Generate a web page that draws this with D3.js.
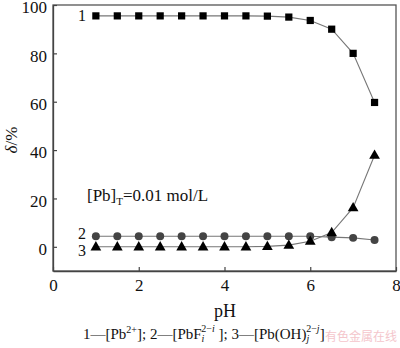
<!DOCTYPE html>
<html><head><meta charset="utf-8">
<script src="https://cdn.jsdelivr.net/npm/d3@7/dist/d3.min.js"></script>
<style>body{margin:0;background:#fff}svg{display:block;font-family:"Liberation Serif","Times New Roman",serif}</style>
</head><body><svg id="c" width="400" height="348"></svg>
<script>
const pH = [1, 1.5, 2, 2.5, 3, 3.5, 4, 4.5, 5, 5.5, 6, 6.5, 7, 7.5];
const pb2 = [95.5, 95.5, 95.5, 95.5, 95.5, 95.5, 95.5, 95.5, 95.4, 95, 93.6, 90, 80, 59.7];
const pbF = [4.4, 4.4, 4.4, 4.4, 4.4, 4.4, 4.4, 4.4, 4.4, 4.4, 4.4, 4.0, 3.7, 2.8];
const pbOH = [0, 0, 0, 0, 0, 0, 0, 0, 0.2, 0.7, 2.3, 5.9, 16.2, 37.9];
const xTicks = [0, 2, 4, 6, 8];
const yTicks = [0, 20, 40, 60, 80, 100];

const svg = d3.select("#c");
const L = 53, R = 396, T = 5, B = 271;
const x = d3.scaleLinear().domain([0, 8]).range([L, R]);
const y = d3.scaleLinear().domain([-10, 100]).range([B, T]);
const axCol = "#444";

svg.append("rect").attr("x", L).attr("y", T).attr("width", R - L).attr("height", B - T)
  .attr("fill", "none").attr("stroke", "#555").attr("stroke-width", 1.3);

const xa = svg.append("g").attr("transform", `translate(0,${B})`)
  .call(d3.axisBottom(x).tickValues(xTicks).tickSizeInner(-4).tickSizeOuter(0).tickPadding(8));
const ya = svg.append("g").attr("transform", `translate(${L},0)`)
  .call(d3.axisLeft(y).tickValues(yTicks).tickSizeInner(-4).tickSizeOuter(0).tickPadding(6));
[xa, ya].forEach(a => {
  a.attr("font-family", "Liberation Serif").attr("font-size", 17);
  a.select(".domain").attr("stroke", axCol).attr("stroke-width", 1.3);
  a.selectAll(".tick line").attr("stroke", axCol).attr("stroke-width", 1.2);
  a.selectAll("text").attr("fill", "#111");
});
ya.selectAll("text").attr("dy", "0.45em");

const line = d3.line().x(d => x(d[0])).y(d => y(d[1]));
const series = [
  {vals: pb2, shape: d3.symbolSquare, size: 52, fill: "#000"},
  {vals: pbF, shape: d3.symbolCircle, size: 50, fill: "#444"},
  {vals: pbOH, shape: d3.symbolTriangle, size: 50, fill: "#000"}
];
series.forEach(s => {
  const pts = pH.map((p, i) => [p, s.vals[i]]);
  svg.append("path").datum(pts).attr("d", line).attr("fill", "none")
    .attr("stroke", "#777").attr("stroke-width", 1.1);
  svg.selectAll(null).data(pts).enter().append("path")
    .attr("d", d3.symbol().type(s.shape).size(s.size))
    .attr("transform", d => `translate(${x(d[0])},${y(d[1]) + (s.shape === d3.symbolTriangle ? 0.5 : 0)})`)
    .attr("fill", s.fill);
});

const lab = (t, px, py) => svg.append("text").attr("x", px).attr("y", py).attr("font-size", 16)
  .attr("text-anchor", "middle").attr("fill", "#111").text(t);
lab("1", 82, 21);
lab("2", 82, 239);
lab("3", 82, 256);

const ann = svg.append("text").attr("x", 87).attr("y", 201).attr("font-size", 17).attr("fill", "#111");
ann.append("tspan").text("[Pb]");
ann.append("tspan").attr("font-size", 11).attr("dy", 4).text("T");
ann.append("tspan").attr("dy", -4).text("=0.01 mol/L");

svg.append("text").attr("x", 225).attr("y", 317).attr("font-size", 18).attr("text-anchor", "middle")
  .attr("fill", "#111").text("pH");
const yt = svg.append("text").attr("transform", "translate(17,140) rotate(-90)").attr("font-size", 17)
  .attr("text-anchor", "middle").attr("fill", "#111");
yt.append("tspan").attr("font-style", "italic").text("δ");
yt.append("tspan").text("/%");

const cap = svg.append("text").attr("x", 83).attr("y", 339).attr("font-size", 15).attr("fill", "#111");
cap.append("tspan").text("1—[Pb");
cap.append("tspan").attr("font-size", 10).attr("dy", -6).text("2+");
cap.append("tspan").attr("dy", 6).text("]; 2—[PbF");
cap.append("tspan").attr("font-size", 10).attr("font-style", "italic").attr("dy", 3).text("i");
cap.append("tspan").attr("font-size", 10).attr("dx", -3).attr("dy", -10).text("2−");
cap.append("tspan").attr("font-size", 10).attr("font-style", "italic").text("i");
cap.append("tspan").attr("dy", 7).text(" ]; 3—[Pb(OH)");
cap.append("tspan").attr("font-size", 10).attr("font-style", "italic").attr("dy", 3).text("j");
cap.append("tspan").attr("font-size", 10).attr("dx", -3).attr("dy", -10).text("2−");
cap.append("tspan").attr("font-size", 10).attr("font-style", "italic").text("j");
cap.append("tspan").attr("dy", 7).text("]");

svg.append("text").attr("x", 397).attr("y", 341).attr("text-anchor", "end").attr("font-size", 12)
  .attr("font-family", "Noto Sans CJK SC").attr("fill", "#f2b8c0").attr("opacity", 0.8).text("有色金属在线");
</script></body></html>
